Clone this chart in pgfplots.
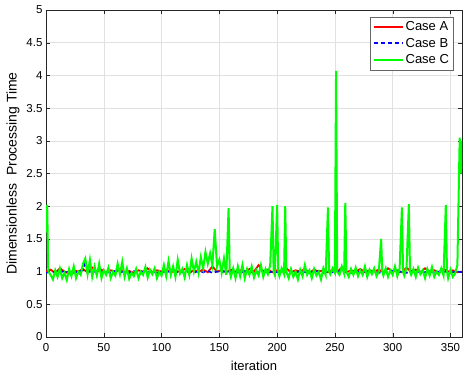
\documentclass[border=0pt]{standalone}
\usepackage{pgfplots}
\pgfplotsset{compat=1.18}
\usepackage{fontspec}
\setmainfont{Liberation Sans}
\definecolor{matgreen}{RGB}{0,255,0}
\definecolor{gridgray}{RGB}{225,225,225}
\definecolor{axgray}{RGB}{38,38,38}
\begin{document}
\begin{tikzpicture}
\begin{axis}[
  scale only axis, width=416pt, height=327pt,
  xmin=0, xmax=360, ymin=0, ymax=5,
  xtick={0,50,...,350}, ytick={0,0.5,...,5},
  yticklabels={0,0.5,1,1.5,2,2.5,3,3.5,4,4.5,5},
  grid=major, major grid style={gridgray, line width=0.5pt},
  axis line style={axgray, line width=0.5pt},
  tick style={axgray}, tick align=inside, major tick length=4pt,
  xticklabel style={font=\fontsize{11.5}{13}\selectfont, yshift=-3pt},
  yticklabel style={font=\fontsize{11.5}{13}\selectfont},
  /pgf/number format/assume math mode=true,
  xlabel={iteration}, ylabel={Dimensionless\ \ Processing Time},
  xlabel style={font=\fontsize{13}{15}\selectfont, yshift=-3pt},
  ylabel style={font=\fontsize{14}{16}\selectfont, yshift=0pt},
  legend style={at={(0.98,0.979)}, anchor=north east, draw=black!60, font=\fontsize{13}{15}\selectfont, row sep=2pt, inner sep=2.5pt},
  legend cell align=left,
  legend image code/.code={\draw[#1, line width=2pt] plot coordinates {(0cm,0cm) (0.5cm,0cm) (1cm,0cm)};},
]
\addplot[red, line width=1.8pt] coordinates {
(0,1.0)(4,1.03)(8,0.98)(12,1.05)(16,1.0)(20,0.97)(24,1.02)(28,1.0)(32,1.04)(36,0.99)(40,1.06)(44,1.0)(48,1.03)(52,0.98)(56,1.02)(60,1.0)(64,1.04)(68,0.99)(72,1.01)(76,0.98)(80,1.02)(84,1.0)(88,1.05)(92,0.99)(96,1.02)(100,1.0)(104,1.03)(108,0.99)(112,1.01)(116,1.0)(120,1.04)(124,0.98)(128,1.02)(132,1.0)(136,1.03)(140,0.99)(144,1.08)(148,1.0)(152,1.02)(156,0.99)(160,1.03)(164,1.0)(168,1.02)(172,0.98)(176,1.04)(180,1.0)(184,1.1)(188,1.0)(192,1.03)(196,0.99)(200,1.02)(204,1.0)(208,1.05)(212,0.99)(216,1.02)(220,1.0)(224,1.04)(228,0.98)(232,1.03)(236,1.0)(240,1.02)(244,0.99)(248,1.03)(252,1.0)(256,1.06)(260,0.99)(264,1.02)(268,1.0)(272,1.04)(276,0.99)(280,1.02)(284,1.0)(288,1.03)(292,0.99)(296,1.05)(300,1.0)(304,1.02)(308,0.99)(312,1.06)(316,1.0)(320,1.03)(324,0.99)(328,1.05)(332,1.0)(336,1.02)(340,0.99)(344,1.04)(348,1.0)(352,1.02)(356,0.99)(360,1.0)
};
\addlegendentry{Case A}
\addplot[blue, line width=1.6pt, dash pattern=on 4pt off 3pt] coordinates {
(0,0.98)(4,1.0)(8,0.99)(12,1.01)(16,0.99)(20,1.0)(24,0.98)(28,1.0)(32,1.02)(34,1.15)(36,1.0)(40,0.99)(44,1.01)(48,0.99)(52,1.0)(56,0.98)(60,1.01)(64,0.99)(68,1.0)(72,0.98)(76,1.01)(80,0.99)(84,1.0)(88,0.99)(92,1.01)(96,0.98)(100,1.0)(104,0.99)(108,1.01)(112,0.99)(116,1.0)(120,0.98)(124,1.01)(128,0.99)(132,1.0)(136,0.99)(140,1.01)(144,0.98)(148,1.0)(152,0.99)(156,1.01)(160,0.99)(164,1.0)(168,0.98)(172,1.01)(176,0.99)(180,1.0)(184,0.99)(188,1.01)(192,0.98)(196,1.0)(200,0.99)(204,1.01)(208,0.99)(212,1.0)(216,0.98)(220,1.01)(224,0.99)(228,1.0)(232,0.99)(236,1.01)(240,0.98)(244,1.0)(248,0.99)(252,1.01)(256,0.99)(260,1.0)(264,0.98)(268,1.01)(272,0.99)(276,1.0)(280,0.99)(284,1.01)(288,0.98)(292,1.0)(296,0.99)(300,1.01)(304,0.99)(308,1.0)(312,0.98)(316,1.01)(320,0.99)(324,1.0)(328,0.99)(332,1.01)(336,0.98)(340,1.0)(344,0.99)(348,1.01)(352,0.99)(356,1.0)(360,0.99)
};
\addlegendentry{Case B}
\addplot[matgreen, line width=2pt] coordinates {
(0,1.6)(1,2.02)(2,1.0)(4,0.95)(6,0.88)(8,1.02)(10,0.92)(12,1.05)(14,0.9)(16,0.98)(18,0.87)(20,1.04)(22,0.93)(24,1.08)(26,0.9)(28,1.0)(30,0.95)(32,1.12)(34,1.2)(36,0.96)(38,1.18)(40,0.92)(42,1.08)(44,0.94)(46,1.12)(48,0.9)(50,1.02)(52,0.95)(54,1.06)(56,0.9)(58,1.0)(60,0.94)(62,1.12)(64,0.96)(66,1.15)(68,0.92)(70,1.05)(72,0.89)(74,0.98)(76,0.93)(78,1.04)(80,0.9)(82,1.0)(84,0.95)(86,1.07)(88,0.91)(90,1.03)(92,0.96)(94,1.05)(96,0.9)(98,1.0)(100,0.94)(102,1.1)(104,0.93)(106,1.16)(108,0.95)(110,1.08)(112,0.92)(114,1.18)(116,0.97)(118,1.04)(120,0.91)(122,1.1)(124,0.95)(126,1.2)(128,1.0)(130,1.15)(132,0.98)(134,1.22)(136,1.05)(138,1.3)(140,1.12)(142,1.28)(144,1.1)(146,1.65)(148,1.08)(150,1.18)(152,0.98)(154,1.2)(156,0.95)(158,1.97)(159,1.0)(160,0.92)(162,1.05)(164,0.9)(166,1.08)(168,0.93)(170,1.1)(172,0.9)(174,1.04)(176,0.95)(178,1.08)(180,0.91)(182,1.02)(184,0.94)(186,1.1)(188,0.92)(190,1.04)(192,0.96)(194,1.1)(196,2.0)(197,1.0)(198,0.95)(200,2.02)(201,1.0)(202,0.93)(204,1.05)(206,0.96)(207,2.0)(208,1.0)(210,0.9)(212,1.04)(214,0.92)(216,1.0)(218,0.88)(220,1.03)(222,0.93)(224,1.1)(226,0.95)(228,1.02)(230,0.9)(232,1.04)(234,0.94)(236,1.0)(238,0.88)(240,1.05)(242,0.95)(244,1.98)(245,1.0)(246,0.96)(248,1.05)(250,0.98)(251,4.07)(252,1.0)(254,0.95)(256,1.08)(258,0.97)(259,2.05)(260,1.0)(262,0.92)(264,1.04)(266,0.95)(268,1.06)(270,0.93)(272,1.02)(274,0.95)(276,1.08)(278,0.92)(280,1.03)(282,0.96)(284,1.05)(286,0.93)(288,1.0)(290,1.5)(291,1.0)(292,0.94)(294,1.05)(296,0.92)(298,1.02)(300,0.95)(302,1.08)(304,0.93)(306,1.05)(308,1.98)(309,1.0)(310,0.94)(312,1.06)(314,2.03)(315,1.0)(316,0.95)(318,1.04)(320,0.92)(322,1.06)(324,0.96)(326,1.02)(328,0.9)(330,1.04)(332,0.94)(334,1.07)(336,0.92)(338,1.0)(340,0.95)(342,1.05)(344,0.94)(346,2.02)(347,1.0)(348,0.9)(350,1.03)(352,0.92)(354,0.97)(356,1.1)(358,3.05)(359,2.5)(360,3.0)
};
\addlegendentry{Case C}
\end{axis}
\path ([xshift=-46pt,yshift=-43pt]current axis.south west) rectangle ([xshift=8pt,yshift=10pt]current axis.north east);
\end{tikzpicture}
\end{document}
